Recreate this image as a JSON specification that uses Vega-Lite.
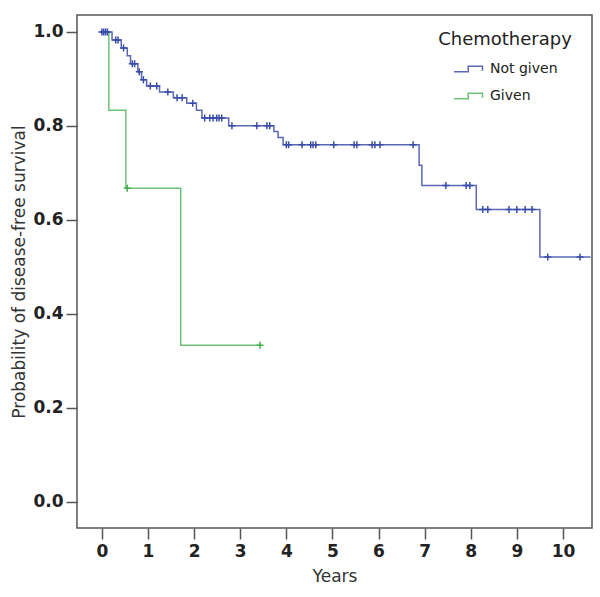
{
  "$schema": "https://vega.github.io/schema/vega-lite/v6.json",
  "width": 515,
  "height": 513,
  "autosize": {"type": "none"},
  "padding": {"left": 77, "top": 15, "right": 8, "bottom": 69},
  "background": "white",
  "config": {
    "view": {"stroke": "#555555", "strokeWidth": 1.5},
    "axis": {"domain": false, "grid": false, "tickColor": "#555555", "tickWidth": 1.5,
             "labelFont": "DejaVu Sans", "labelFontWeight": "bold", "labelFontSize": 17, "labelColor": "#222222",
             "titleFont": "DejaVu Sans", "titleFontWeight": "normal", "titleFontSize": 17, "titleColor": "#333333"}
  },
  "datasets": {
    "curves": [
      {"group": "Not given", "t": 0, "s": 1.0},
      {"group": "Not given", "t": 0.22, "s": 0.983},
      {"group": "Not given", "t": 0.42, "s": 0.966},
      {"group": "Not given", "t": 0.55, "s": 0.949},
      {"group": "Not given", "t": 0.62, "s": 0.932},
      {"group": "Not given", "t": 0.78, "s": 0.915},
      {"group": "Not given", "t": 0.86, "s": 0.898},
      {"group": "Not given", "t": 0.97, "s": 0.885},
      {"group": "Not given", "t": 1.25, "s": 0.872},
      {"group": "Not given", "t": 1.55, "s": 0.86},
      {"group": "Not given", "t": 1.84, "s": 0.848},
      {"group": "Not given", "t": 2.05, "s": 0.833},
      {"group": "Not given", "t": 2.17, "s": 0.817},
      {"group": "Not given", "t": 2.75, "s": 0.80},
      {"group": "Not given", "t": 3.73, "s": 0.788},
      {"group": "Not given", "t": 3.82, "s": 0.775},
      {"group": "Not given", "t": 3.93, "s": 0.76},
      {"group": "Not given", "t": 6.88, "s": 0.716},
      {"group": "Not given", "t": 6.94, "s": 0.673},
      {"group": "Not given", "t": 8.12, "s": 0.622},
      {"group": "Not given", "t": 9.5, "s": 0.521},
      {"group": "Not given", "t": 10.6, "s": 0.521},
      {"group": "Given", "t": 0, "s": 1.0},
      {"group": "Given", "t": 0.15, "s": 0.833},
      {"group": "Given", "t": 0.52, "s": 0.667},
      {"group": "Given", "t": 1.71, "s": 0.333},
      {"group": "Given", "t": 3.43, "s": 0.333}
    ],
    "censored": [
      {"group": "Not given", "t": 0.0, "s": 1.0},
      {"group": "Not given", "t": 0.04, "s": 1.0},
      {"group": "Not given", "t": 0.08, "s": 1.0},
      {"group": "Not given", "t": 0.12, "s": 1.0},
      {"group": "Not given", "t": 0.3, "s": 0.983},
      {"group": "Not given", "t": 0.35, "s": 0.983},
      {"group": "Not given", "t": 0.47, "s": 0.966},
      {"group": "Not given", "t": 0.66, "s": 0.932},
      {"group": "Not given", "t": 0.71, "s": 0.932},
      {"group": "Not given", "t": 0.81, "s": 0.915},
      {"group": "Not given", "t": 0.9, "s": 0.898},
      {"group": "Not given", "t": 1.05, "s": 0.885},
      {"group": "Not given", "t": 1.19, "s": 0.885},
      {"group": "Not given", "t": 1.43, "s": 0.872},
      {"group": "Not given", "t": 1.63, "s": 0.86},
      {"group": "Not given", "t": 1.74, "s": 0.86},
      {"group": "Not given", "t": 1.97, "s": 0.848},
      {"group": "Not given", "t": 2.23, "s": 0.817},
      {"group": "Not given", "t": 2.34, "s": 0.817},
      {"group": "Not given", "t": 2.41, "s": 0.817},
      {"group": "Not given", "t": 2.49, "s": 0.817},
      {"group": "Not given", "t": 2.54, "s": 0.817},
      {"group": "Not given", "t": 2.6, "s": 0.817},
      {"group": "Not given", "t": 2.82, "s": 0.80},
      {"group": "Not given", "t": 3.36, "s": 0.80},
      {"group": "Not given", "t": 3.58, "s": 0.80},
      {"group": "Not given", "t": 3.64, "s": 0.80},
      {"group": "Not given", "t": 4.0, "s": 0.76},
      {"group": "Not given", "t": 4.05, "s": 0.76},
      {"group": "Not given", "t": 4.34, "s": 0.76},
      {"group": "Not given", "t": 4.53, "s": 0.76},
      {"group": "Not given", "t": 4.58, "s": 0.76},
      {"group": "Not given", "t": 4.64, "s": 0.76},
      {"group": "Not given", "t": 5.03, "s": 0.76},
      {"group": "Not given", "t": 5.47, "s": 0.76},
      {"group": "Not given", "t": 5.53, "s": 0.76},
      {"group": "Not given", "t": 5.86, "s": 0.76},
      {"group": "Not given", "t": 5.92, "s": 0.76},
      {"group": "Not given", "t": 6.03, "s": 0.76},
      {"group": "Not given", "t": 6.75, "s": 0.76},
      {"group": "Not given", "t": 7.46, "s": 0.673},
      {"group": "Not given", "t": 7.9, "s": 0.673},
      {"group": "Not given", "t": 7.98, "s": 0.673},
      {"group": "Not given", "t": 8.26, "s": 0.622},
      {"group": "Not given", "t": 8.37, "s": 0.622},
      {"group": "Not given", "t": 8.83, "s": 0.622},
      {"group": "Not given", "t": 9.0, "s": 0.622},
      {"group": "Not given", "t": 9.18, "s": 0.622},
      {"group": "Not given", "t": 9.33, "s": 0.622},
      {"group": "Not given", "t": 9.67, "s": 0.521},
      {"group": "Not given", "t": 10.37, "s": 0.521},
      {"group": "Given", "t": 0.55, "s": 0.667},
      {"group": "Given", "t": 3.43, "s": 0.333}
    ]
  },
  "layer": [
    {
      "data": {"name": "curves"},
      "mark": {"type": "line", "interpolate": "step-after", "strokeWidth": 1.5},
      "encoding": {
        "x": {"field": "t", "type": "quantitative",
              "scale": {"domain": [-0.54, 10.63], "nice": false, "zero": false},
              "axis": {"title": "Years", "values": [0,1,2,3,4,5,6,7,8,9,10], "tickSize": 11, "labelPadding": 4, "titlePadding": 9}},
        "y": {"field": "s", "type": "quantitative",
              "scale": {"domain": [-0.056, 1.036], "nice": false, "zero": false},
              "axis": {"title": "Probability of disease-free survival", "values": [0,0.2,0.4,0.6,0.8,1.0], "format": ".1f", "tickSize": 11, "labelPadding": 3, "titlePadding": 4}},
        "color": {"field": "group", "type": "nominal",
                  "scale": {"domain": ["Not given", "Given"], "range": ["#5b68b5", "#6cc377"]},
                  "legend": {"title": "Chemotherapy", "orient": "none", "legendX": 361, "legendY": 16,
                             "titleFont": "DejaVu Sans", "titleFontSize": 18, "titleFontWeight": "normal", "titleColor": "#222222",
                             "titleAnchor": "middle", "titleAlign": "center", "titlePadding": 4,
                             "labelFont": "DejaVu Sans", "labelFontSize": 14, "labelColor": "#222222",
                             "symbolType": "M-1,0.18H-0.05V-0.18H0.9V0.12", "symbolSize": 900, "symbolStrokeWidth": 1.5,
                             "symbolFillColor": "transparent", "rowPadding": 4, "labelOffset": 5}},
        "detail": {"field": "group"}
      }
    },
    {
      "data": {"name": "censored"},
      "mark": {"type": "point", "shape": "M0,-1V1M-1,0H1", "size": 49, "strokeWidth": 1.5, "filled": false, "opacity": 1},
      "encoding": {
        "x": {"field": "t", "type": "quantitative"},
        "y": {"field": "s", "type": "quantitative"},
        "stroke": {"condition": {"test": "datum.group === 'Given'", "value": "#3fae4d"}, "value": "#3a4cab"}
      }
    }
  ]
}
